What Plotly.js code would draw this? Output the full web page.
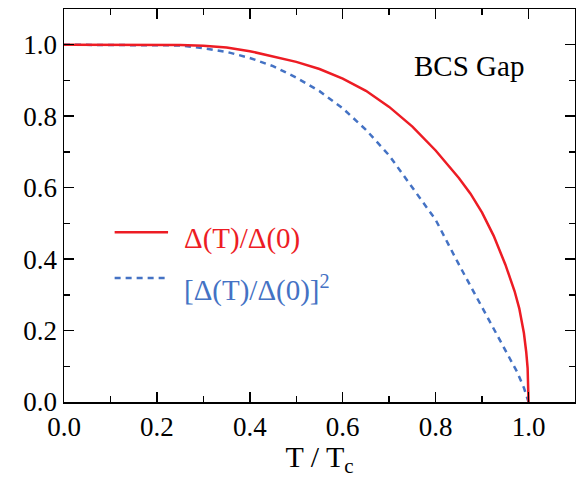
<!DOCTYPE html>
<html>
<head>
<meta charset="utf-8">
<script src="https://cdn.plot.ly/plotly-3.0.1.min.js"></script>
<style>
html,body{margin:0;padding:0;background:#fff;}
#chart{width:576px;height:478px;}
</style>
</head>
<body>
<div id="chart"></div>
<script>
// Reduced temperature T/Tc
const tRed = [0, 0.1, 0.2, 0.25, 0.3, 0.35, 0.4, 0.45, 0.5, 0.55, 0.6, 0.65, 0.7, 0.75, 0.8, 0.85, 0.875, 0.9, 0.925, 0.95, 0.96, 0.97, 0.98, 0.985, 0.99, 0.995, 0.998, 1.0];
// Δ(T)/Δ(0)
const gapRatio = [1, 1, 1, 0.9995, 0.997, 0.992, 0.982, 0.968, 0.952, 0.932, 0.905, 0.871, 0.826, 0.771, 0.704, 0.627, 0.583, 0.530, 0.465, 0.385, 0.350, 0.310, 0.262, 0.232, 0.193, 0.140, 0.095, 0];
const tBlue = [0, 0.1, 0.2, 0.25, 0.3, 0.35, 0.4, 0.45, 0.5, 0.55, 0.6, 0.65, 0.7, 0.75, 0.8, 0.85, 0.875, 0.9, 0.925, 0.95, 0.975, 0.99, 1.0];
// [Δ(T)/Δ(0)]^2
const gapSquared = [1, 1, 1, 0.998, 0.990, 0.980, 0.963, 0.940, 0.908, 0.870, 0.822, 0.762, 0.690, 0.600, 0.510, 0.385, 0.325, 0.265, 0.206, 0.147, 0.085, 0.040, 0];

const seriesNames = ['Δ(T)/Δ(0)', '[Δ(T)/Δ(0)]<sup>2</sup>'];
const chartLabel = 'BCS Gap';
const xTitle = 'T / T<sub>c</sub>';
const xTicks = [0, 0.2, 0.4, 0.6, 0.8, 1.0];
const xTickText = ['0.0', '0.2', '0.4', '0.6', '0.8', '1.0'];
const yTicks = [0, 0.2, 0.4, 0.6, 0.8, 1.0];
const yTickText = ['0.0', '0.2', '0.4', '0.6', '0.8', '1.0'];

const RED = 'rgb(237,28,36)';
const BLUE = 'rgb(68,114,196)';
const FONT = 'Times New Roman';

const traces = [
  {x: tBlue, y: gapSquared, type: 'scatter', mode: 'lines', name: seriesNames[1],
   line: {color: BLUE, width: 2.5, dash: '6px,5px'}},
  {x: tRed, y: gapRatio, type: 'scatter', mode: 'lines', name: seriesNames[0],
   line: {color: RED, width: 2.5}}
];

function axisCommon() {
  return {
    range: [0, 1.1], showgrid: false, zeroline: false, showline: true, linecolor: '#000', linewidth: 1.5,
    mirror: 'allticks', ticks: 'inside', ticklen: 10, tickwidth: 1.5, tickcolor: '#000',
    tickfont: {family: FONT, size: 27, color: '#000'},
    minor: {dtick: 0.1, ticks: 'inside', ticklen: 6, tickwidth: 1.5, tickcolor: '#000', showgrid: false},
    fixedrange: true
  };
}

const layout = {
  width: 576, height: 478,
  margin: {l: 64, r: 1, t: 9, b: 76},
  paper_bgcolor: '#fff', plot_bgcolor: '#fff',
  showlegend: false,
  font: {family: FONT, color: '#000'},
  xaxis: Object.assign(axisCommon(), {
    tickmode: 'array', tickvals: xTicks, ticktext: xTickText,
    title: {text: xTitle, font: {family: FONT, size: 30, color: '#000'}, standoff: 4},
    automargin: false
  }),
  yaxis: Object.assign(axisCommon(), {
    tickmode: 'array', tickvals: yTicks, ticktext: yTickText, automargin: false
  }),
  shapes: [
    {type: 'line', xref: 'x', yref: 'y', x0: 0.109, x1: 0.224, y0: 0.475, y1: 0.475,
     line: {color: RED, width: 2.5}},
    {type: 'line', xref: 'x', yref: 'y', x0: 0.109, x1: 0.224, y0: 0.347, y1: 0.347,
     line: {color: BLUE, width: 2.5, dash: '6px,5px'}}
  ],
  annotations: [
    {x: 0.254, y: 0.458, xref: 'x', yref: 'y', xanchor: 'left', yanchor: 'middle', showarrow: false,
     text: seriesNames[0], font: {family: FONT, size: 29, color: RED}},
    {x: 0.254, y: 0.318, xref: 'x', yref: 'y', xanchor: 'left', yanchor: 'middle', showarrow: false,
     text: seriesNames[1], font: {family: FONT, size: 29, color: BLUE}},
    {x: 0.872, y: 0.94, xref: 'x', yref: 'y', xanchor: 'center', yanchor: 'middle', showarrow: false,
     text: chartLabel, font: {family: FONT, size: 29, color: '#000'}}
  ]
};

Plotly.newPlot('chart', traces, layout, {staticPlot: true, displayModeBar: false}).then(function (gd) {
  gd.querySelectorAll('svg text').forEach(function (el) {
    el.style.setProperty('font-family', "'Liberation Serif', 'Times New Roman', serif", 'important');
  });
});
</script>
</body>
</html>
